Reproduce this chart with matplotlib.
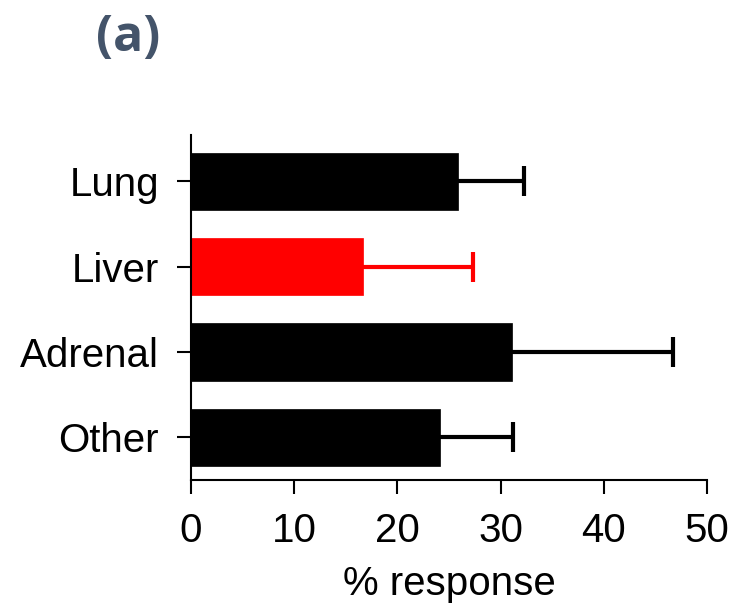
import numpy as np
import matplotlib
matplotlib.use("Agg")
import matplotlib.pyplot as plt

# values
sites = ["Lung", "Liver", "Adrenal", "Other"]
response = [25.9, 16.7, 31.1, 24.1]
err_upper = [6.4, 10.6, 15.6, 7.1]
bar_colors = ["black", "red", "black", "black"]

plt.rcParams['font.family'] = ['Liberation Sans', 'DejaVu Sans']

fig = plt.figure(figsize=(7.33, 6.10), dpi=100)
ax = fig.add_axes([0.2606, 0.2131, 0.7039, 0.5656])

y = np.arange(len(sites))
ax.barh(y, response, height=0.67, color=bar_colors, edgecolor=bar_colors, linewidth=0.5)
# one-sided error bars: line from bar end plus a cap at the far end
tips = np.array(response) + np.array(err_upper)
ax.hlines(y, response, tips, colors=bar_colors, linewidth=3)
for yi, t, c in zip(y, tips, bar_colors):
    ax.plot(t, yi, marker='|', markersize=22, markeredgewidth=3, color=c)

ax.set_ylim(len(sites) - 0.5, -0.54)
ax.set_xlim(0, 50)
ax.set_xticks([0, 10, 20, 30, 40, 50])
ax.set_yticks(y)
ax.set_yticklabels(sites)

for s in ['top', 'right']:
    ax.spines[s].set_visible(False)
for s in ['left', 'bottom']:
    ax.spines[s].set_linewidth(1.5)
ax.tick_params(axis='both', labelsize=29, width=1.5, length=10, pad=13)
ax.set_xlabel('% response', fontsize=29, labelpad=11)

fig.text(0.175, 0.938, '(a)', fontsize=36, fontweight='bold', color='#44546A',
         family=['Open Sans', 'DejaVu Sans'], ha='center', va='center')

fig.savefig('out.png', dpi=100)
